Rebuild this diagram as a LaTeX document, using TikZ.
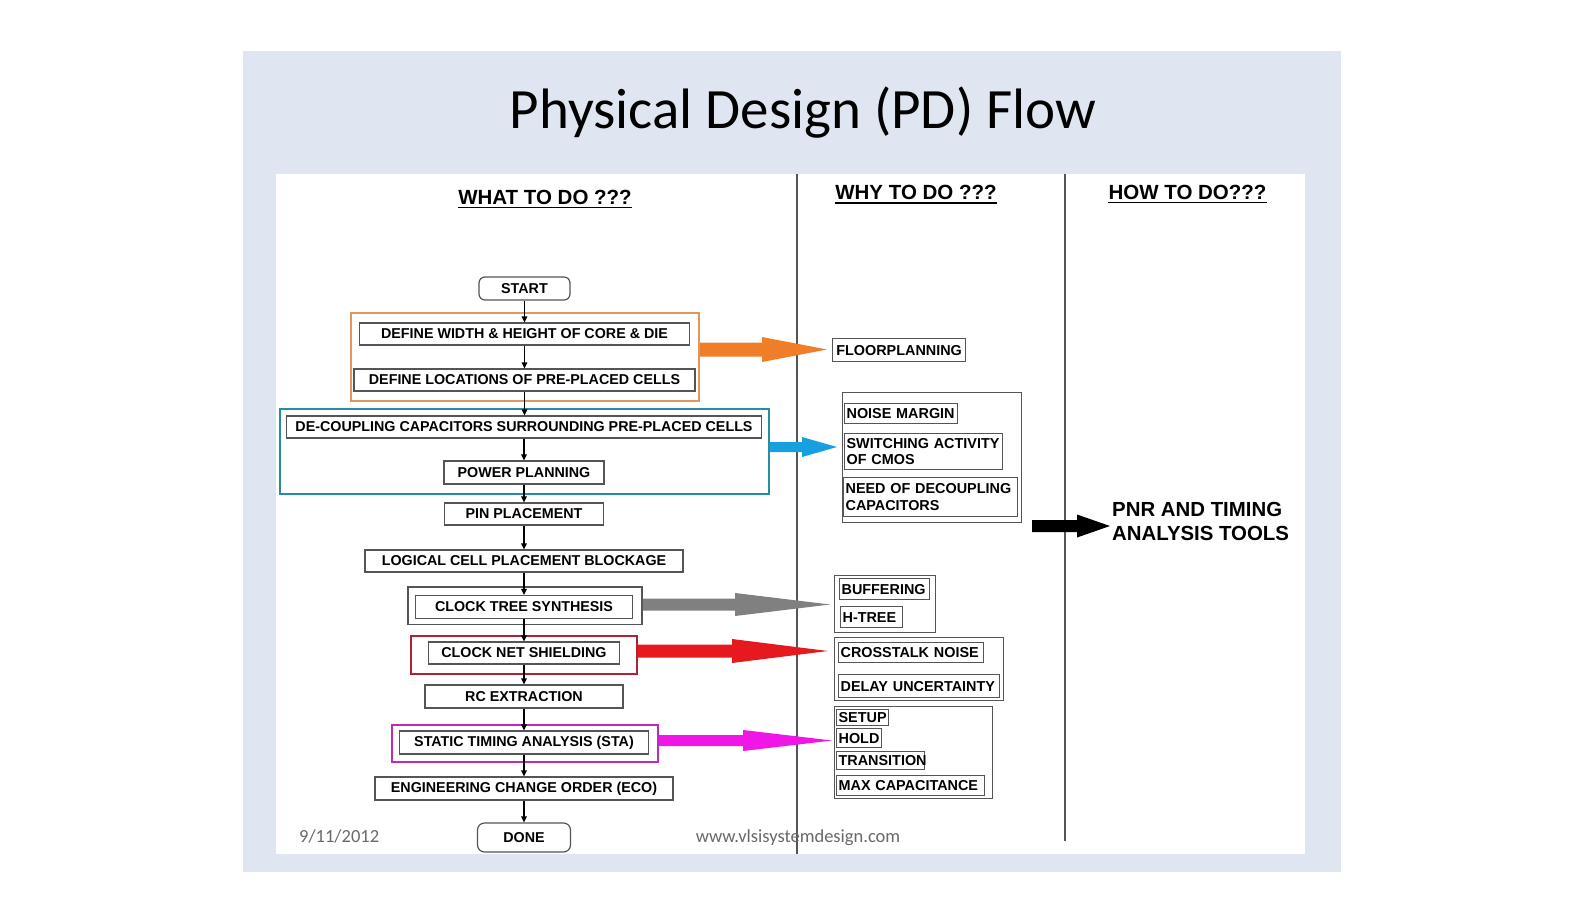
\documentclass[tikz,border=0pt]{standalone}
\usepackage{fontspec}
\setmainfont{Liberation Sans}
\newfontfamily\slidefont{Carlito}
\usetikzlibrary{arrows.meta,calc}

\definecolor{slidebg}{RGB}{224,230,241}
\definecolor{boxline}{RGB}{85,85,85}
\definecolor{orangebox}{RGB}{226,150,92}
\definecolor{orangefill}{RGB}{240,126,40}
\definecolor{tealbox}{RGB}{42,140,160}
\definecolor{bluefill}{RGB}{22,160,224}
\definecolor{greyfill}{RGB}{128,128,128}
\definecolor{redbox}{RGB}{178,32,52}
\definecolor{redfill}{RGB}{230,26,30}
\definecolor{magbox}{RGB}{190,42,190}
\definecolor{magfill}{RGB}{240,22,230}
\definecolor{footgrey}{RGB}{105,105,105}

% thick block arrow: colour, start, tip, head length, shaft half width, head half width
\newcommand\fatarrow[6]{%
  \fill[#1] ($(#2)+(0,#5)$) -- ($(#3)+(-#4,#5)$) -- ($(#3)+(-#4,#6)$) -- (#3)
    -- ($(#3)+(-#4,-#6)$) -- ($(#3)+(-#4,-#5)$) -- ($(#2)+(0,-#5)$) -- cycle;}

% left-aligned box in the middle column: name, x, y (top left), width, height, text
\newcommand\whybox[6]{%
  \node[whynode, text width=#4-4, minimum height=#5] (#1) at (#2,#3) {#6};}

\begin{document}
\begin{tikzpicture}[x=1pt,y=-1pt,
  flowfont/.style={font=\fontsize{14.3}{16}\selectfont\bfseries},
  stepbox/.style={draw=boxline, line width=1.2pt, fill=white, inner sep=0pt, flowfont},
  roundbox/.style={stepbox, rounded corners=6pt},
  groupbox/.style={line width=2pt, inner sep=0pt},
  whynode/.style={draw=boxline, line width=1.2pt, fill=white, anchor=north west,
    inner xsep=2pt, inner ysep=0pt, align=left,
    font=\fontsize{14.4}{16.5}\selectfont\bfseries},
  whygroup/.style={draw=boxline, line width=1.2pt, inner sep=0pt, anchor=north west},
  flowline/.style={line width=1.3pt, -{Triangle[length=6pt,width=5.5pt]}},
  header/.style={font=\fontsize{20.5}{24}\selectfont\bfseries, inner sep=0pt, anchor=base},
]
\useasboundingbox (0,0) rectangle (1583,916);
\fill[white] (0,0) rectangle (1583,916);

% slide and content panel
\fill[slidebg] (243,51) rectangle (1341,872);
\fill[white] (276,174) rectangle (1305,854);

\node[font=\slidefont\fontsize{57}{68}\selectfont, inner sep=0pt, anchor=base] (title) at (803,128) {Physical Design (PD) Flow};

% column separators
\coordinate (sep1top) at (797,174);
\coordinate (sep1bot) at (797,854);
\coordinate (sep2top) at (1065,174);
\coordinate (sep2bot) at (1065,841);
\draw[boxline, line width=1.3pt] (sep1top) -- (sep1bot);
\draw[boxline, line width=1.3pt] (sep2top) -- (sep2bot);

% column headers
\node[header] (what) at (545,204) {WHAT TO DO ???};
\node[header] (why) at (916,199.5) {WHY TO DO ???};
\node[header] (how) at (1187.5,199) {HOW TO DO???};
\foreach \h in {what,why,how}
  \draw[line width=1.8pt] ([yshift=-3.5pt]\h.base west) -- ([yshift=-3.5pt]\h.base east);

% group frames
\node[groupbox, draw=orangebox, minimum width=348, minimum height=88] (gA) at (525,357) {};
\node[groupbox, draw=tealbox, minimum width=489, minimum height=85] (gB) at (524.5,451.5) {};
\node[groupbox, draw=boxline, line width=1.6pt, minimum width=234, minimum height=37.5] (gC) at (525,605.75) {};
\node[groupbox, draw=redbox, minimum width=226, minimum height=37.5] (gD) at (524,654.75) {};
\node[groupbox, draw=magbox, minimum width=266, minimum height=37] (gE) at (525,743.5) {};

% flow steps
\node[roundbox, minimum width=91, minimum height=23] (start) at (524.5,288.5) {START};
\node[stepbox, minimum width=330, minimum height=22] (dw) at (524.5,334) {DEFINE WIDTH \& HEIGHT OF CORE \& DIE};
\node[stepbox, minimum width=341, minimum height=22] (dl) at (524.5,380) {DEFINE LOCATIONS OF PRE-PLACED CELLS};
\node[stepbox, minimum width=475, minimum height=22] (dc) at (524,427) {DE-COUPLING CAPACITORS SURROUNDING PRE-PLACED CELLS};
\node[stepbox, minimum width=160, minimum height=23] (pp) at (524,472.5) {POWER PLANNING};
\node[stepbox, minimum width=159, minimum height=22] (pin) at (524,514) {PIN PLACEMENT};
\node[stepbox, minimum width=318, minimum height=22] (lcb) at (524,561) {LOGICAL CELL PLACEMENT BLOCKAGE};
\node[stepbox, minimum width=217, minimum height=23] (cts) at (524,607) {CLOCK TREE SYNTHESIS};
\node[stepbox, minimum width=191, minimum height=22] (cns) at (524,653) {CLOCK NET SHIELDING};
\node[stepbox, minimum width=198, minimum height=23] (rc) at (524,696.5) {RC EXTRACTION};
\node[stepbox, minimum width=249, minimum height=23] (sta) at (524,742.5) {STATIC TIMING ANALYSIS (STA)};
\node[stepbox, minimum width=298, minimum height=23] (eco) at (524,788.5) {ENGINEERING CHANGE ORDER (ECO)};
\node[roundbox, rounded corners=7pt, minimum width=93, minimum height=29] (done) at (524,837.5) {DONE};

% flow connectors
\foreach \a/\b in {start/dw, dw/dl, dl/dc, dc/pp, pp/pin, pin/lcb, lcb/cts, cts/cns, cns/rc, rc/sta, sta/eco, eco/done}
  \draw[flowline] (\a.south) -- (\a.south |- \b.north);

% reasons column
\node[whynode, align=center, text width=129, minimum height=23] (floor) at (832,338) {\mbox{FLOORPLANNING}};
\node[whygroup, minimum width=179, minimum height=130] (gN) at (842,392) {};
\whybox{noise}{844}{403}{113}{20}{\mbox{NOISE MARGIN}}
\whybox{switch}{844}{433}{158}{36}{\mbox{SWITCHING ACTIVITY}\\\mbox{OF CMOS}}
\whybox{need}{843}{477}{174}{39}{\mbox{NEED OF DECOUPLING}\\\mbox{CAPACITORS}}
\node[whygroup, minimum width=101, minimum height=57] (gBuf) at (834,575) {};
\whybox{buf}{839}{578}{90}{21}{\mbox{BUFFERING}}
\whybox{htree}{840}{606}{62}{21}{\mbox{H-TREE}}
\node[whygroup, minimum width=169, minimum height=63] (gXt) at (834,637) {};
\whybox{xtalk}{838}{642}{145}{20}{\mbox{CROSSTALK NOISE}}
\whybox{delay}{838}{674}{161}{23}{\mbox{DELAY UNCERTAINTY}}
\node[whygroup, minimum width=158, minimum height=92] (gSet) at (834,706) {};
\whybox{setup}{836}{709}{52}{16}{\mbox{SETUP}}
\whybox{hold}{836}{728}{45}{19}{\mbox{HOLD}}
\whybox{trans}{836}{751}{88}{18}{\mbox{TRANSITION}}
\whybox{maxcap}{836}{775}{148}{20}{\mbox{MAX CAPACITANCE}}

% tools column
\node[font=\fontsize{20.4}{23.5}\selectfont\bfseries, align=left, inner sep=0pt, anchor=west] (tools) at (1112,521.5) {PNR AND TIMING\\ANALYSIS TOOLS};

% block arrows
\coordinate (tA) at (827,349.5);
\coordinate (sA) at (gA.east |- tA);
\fatarrow{orangefill}{sA}{tA}{65}{7}{12.5}
\coordinate (tB) at (837,447);
\coordinate (sB) at (gB.east |- tB);
\fatarrow{bluefill}{sB}{tB}{35}{5}{10}
\coordinate (tC) at (830,604.5);
\coordinate (sC) at (gC.east |- tC);
\fatarrow{greyfill}{sC}{tC}{95}{6}{11.5}
\coordinate (tD) at (828,651);
\coordinate (sD) at (gD.east |- tD);
\fatarrow{redfill}{sD}{tD}{96}{6.5}{12}
\coordinate (tE) at (832,740.5);
\coordinate (sE) at (gE.east |- tE);
\fatarrow{magfill}{sE}{tE}{89}{5.5}{10.5}
\coordinate (tF) at (1110,526);
\coordinate (sF) at (1032,526);
\fatarrow{black}{sF}{tF}{33}{6}{11.5}

% footer
\node[font=\slidefont\fontsize{18.5}{22}\selectfont, text=footgrey, inner sep=0pt, anchor=base west] (date) at (299,842) {9/11/2012};
\node[font=\slidefont\fontsize{18.5}{22}\selectfont, text=footgrey, inner sep=0pt, anchor=base] (site) at (798,842) {www.vlsisystemdesign.com};
\end{tikzpicture}
\end{document}
